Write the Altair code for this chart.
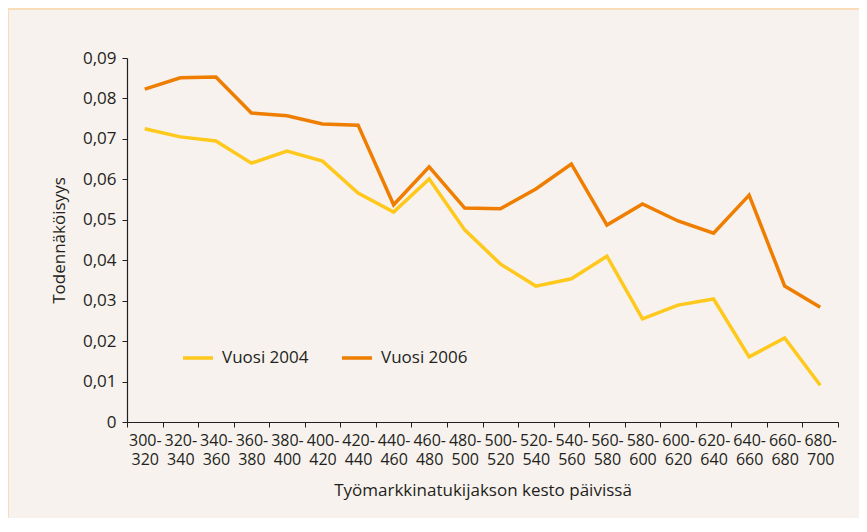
import altair as alt
import pandas as pd

categories = ["300-320", "320-340", "340-360", "360-380", "380-400", "400-420",
              "420-440", "440-460", "460-480", "480-500", "500-520", "520-540",
              "540-560", "560-580", "580-600", "600-620", "620-640", "640-660",
              "660-680", "680-700"]
vuosi_2004 = [0.0725, 0.0705, 0.0695, 0.0640, 0.0670, 0.0645, 0.0566, 0.0519,
              0.0601, 0.0475, 0.0391, 0.0336, 0.0354, 0.0410, 0.0255, 0.0289,
              0.0304, 0.0161, 0.0208, 0.0091]
vuosi_2006 = [0.0823, 0.0851, 0.0853, 0.0764, 0.0757, 0.0737, 0.0734, 0.0537,
              0.0631, 0.0529, 0.0527, 0.0576, 0.0638, 0.0487, 0.0539, 0.0497,
              0.0467, 0.0561, 0.0336, 0.0284]
series_names = ["Vuosi 2004", "Vuosi 2006"]
series_colors = ["#fec91c", "#ef7d00"]
y_ticks = [0, 0.01, 0.02, 0.03, 0.04, 0.05, 0.06, 0.07, 0.08, 0.09]

rows = []
for c, a, b in zip(categories, vuosi_2004, vuosi_2006):
    rows.append({"kesto": c, "sarja": series_names[0], "arvo": a})
    rows.append({"kesto": c, "sarja": series_names[1], "arvo": b})
df = pd.DataFrame(rows)

FONT = "Open Sans"
TXT = "#231f20"

lines = alt.Chart(df).mark_line(strokeWidth=3.5, strokeJoin="miter").encode(
    x=alt.X("kesto:N", sort=categories,
            scale=alt.Scale(paddingInner=0, paddingOuter=0),
            axis=alt.Axis(title="Työmarkkinatukijakson kesto päivissä",
                          labelAngle=0, tickBand="extent",
                          labelExpr="isValid(datum.value) ? [split(datum.value,'-')[0] + '-', split(datum.value,'-')[1]] : ''",
                          labelFontSize=16, labelColor=TXT, labelPadding=5,
                          labelLineHeight=19.5,
                          titleFontSize=17, titleFontWeight="normal", titleColor=TXT,
                          titlePadding=15,
                          domainColor=TXT, tickColor=TXT, tickSize=5,
                          domainWidth=1.2, labelFont=FONT, titleFont=FONT)),
    y=alt.Y("arvo:Q", scale=alt.Scale(domain=[0, 0.09], nice=False),
            axis=alt.Axis(title="Todennäköisyys", values=y_ticks, grid=False,
                          labelExpr="datum.value == 0 ? '0' : replace(format(datum.value, '.2f'), '.', ',')",
                          labelFontSize=17, labelColor=TXT, labelPadding=6,
                          titleFontSize=17, titleFontWeight="normal", titleColor=TXT,
                          titlePadding=14,
                          domainColor=TXT, tickColor=TXT, tickSize=5,
                          domainWidth=1.2, labelFont=FONT, titleFont=FONT)),
    color=alt.Color("sarja:N",
                    scale=alt.Scale(domain=series_names, range=series_colors),
                    legend=alt.Legend(title=None, orient="none", legendX=54, legendY=283,
                                      direction="horizontal", symbolType="stroke",
                                      symbolSize=900, symbolStrokeWidth=3.5,
                                      labelFontSize=17, labelColor=TXT,
                                      labelFont=FONT, columnPadding=26, labelOffset=7)),
)

border = alt.Chart(pd.DataFrame({"a": [0]})).mark_rule(color="#f9dcb8", strokeWidth=2, clip=False).encode(
    x=alt.value(-119), x2=alt.value(740), y=alt.value(-49)
) + alt.Chart(pd.DataFrame({"a": [0]})).mark_rule(color="#f9dcb8", strokeWidth=2, clip=False).encode(
    x=alt.value(-119), y=alt.value(-49), y2=alt.value(460)
)

chart = alt.layer(border, lines).properties(
    width=711, height=364,
    autosize=alt.AutoSizeParams(type="none"),
    padding={"left": 119, "top": 50, "right": 21, "bottom": 96},
    background="#f7f2ee",
).configure_view(stroke=None)

chart.save("out.html", embed_options={"renderer": "svg", "actions": False})
